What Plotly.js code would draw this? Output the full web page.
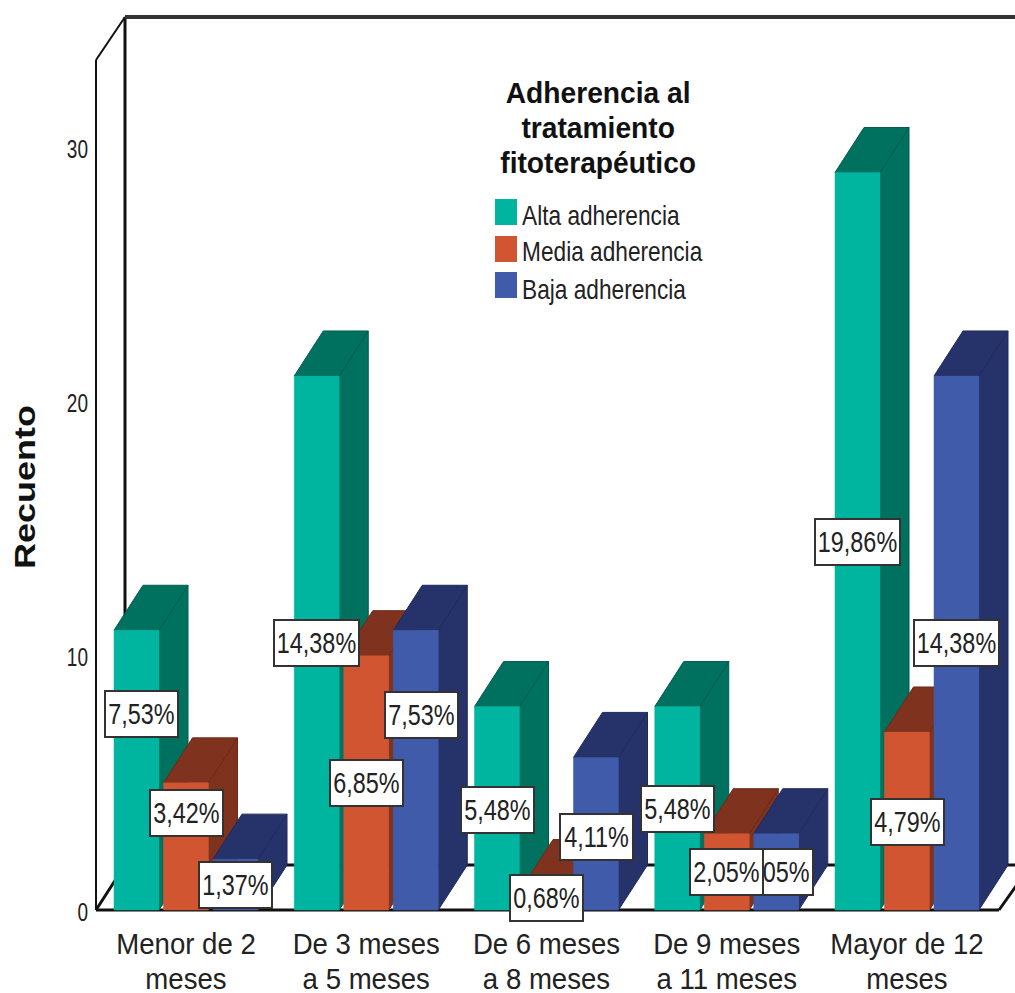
<!DOCTYPE html>
<html>
<head>
<meta charset="utf-8">
<script src="https://cdn.plot.ly/plotly-3.0.1.min.js"></script>
<style>
  html, body { margin: 0; padding: 0; background: #fff; overflow: hidden; }
  #chart { width: 1015px; height: 993px; }
</style>
</head>
<body>
<div id="chart"></div>
<script>
// Patients per duration of use, split by adherence level
const categories = ["Menor de 2<br>meses", "De 3 meses<br>a 5 meses", "De 6 meses<br>a 8 meses", "De 9 meses<br>a 11 meses", "Mayor de 12<br>meses"];
const alta  = [11, 21, 8, 8, 29];
const media = [5, 10, 1, 3, 7];
const baja  = [2, 11, 6, 3, 21];
const seriesNames = ["Alta adherencia", "Media adherencia", "Baja adherencia"];
const legendTitle = "Adherencia al<br>tratamiento<br>fitoterapéutico";

// Height of each value label's centre, in counts
const altaLabelY  = [7.71, 10.5, 3.93, 3.97, 14.47];
const mediaLabelY = [3.81, 5.0, 0.47, 1.49, 3.46];
const bajaLabelY  = [0.98, 7.67, 2.87, 1.49, 10.5];

const values = [alta, media, baja];
const labelY = [altaLabelY, mediaLabelY, bajaLabelY];
const total = values.flat().reduce((a, b) => a + b, 0);

const FRONT = ["#00B5A0", "#D05530", "#3F5BA9"];
const DARK  = ["#00705F", "#7F331F", "#26336B"];
const EDGE  = ["#005C4E", "#6B2A18", "#1E2A5A"];

// Plot scale: pixels per axis unit and the position of the origin
const W = 1015, H = 993, ML = 90, MB = 78;
const PX_X = 180.25, PX_Y = 25.43, X0 = 186, Y0 = 910;
const toX = px => (px - X0) / PX_X;
const toY = py => (Y0 - py) / PX_Y;

// Extruded depth and bar spacing in axis units
const DX = 29 / PX_X, DY = 45 / PX_Y;
const BAR_W = 45 / PX_X, STEP = 49.5 / PX_X;

const traces = [];
function face(xs, ys, fill, edge, name) {
  traces.push({
    type: "scatter", mode: "lines", x: xs, y: ys, fill: "toself",
    fillcolor: fill, line: {color: edge, width: edge === fill ? 0.5 : 1},
    hoverinfo: "skip", showlegend: false, name: name
  });
}

// Painted left to right so nearer bars cover the sides of earlier ones
categories.forEach((_, i) => {
  values.forEach((series, s) => {
    const v = series[i];
    const x0 = i + (s - 1) * STEP - BAR_W / 2;
    const x1 = x0 + BAR_W;
    const name = seriesNames[s];
    face([x1, x1 + DX, x1 + DX, x1, x1], [0, DY, v + DY, v, 0], DARK[s], EDGE[s], name);
    face([x0, x0 + DX, x1 + DX, x1, x0], [v, v + DY, v + DY, v, v], DARK[s], EDGE[s], name);
    face([x0, x1, x1, x0, x0], [0, 0, v, v, 0], FRONT[s], FRONT[s], name);
  });
});

const SANS = "'Liberation Sans', sans-serif";
const annotations = [];

// Value boxes; in each group the blue box sits under the others
const nudge = {"0,0": 4.5, "1,2": 6};
categories.forEach((_, i) => {
  [2, 0, 1].forEach(s => {
    const pct = (values[s][i] / total * 100).toFixed(2).replace(".", ",") + "%";
    annotations.push({
      x: i + (s - 1) * STEP + (nudge[i + "," + s] || 0) / PX_X,
      y: labelY[s][i], xref: "x", yref: "y",
      text: pct, showarrow: false, xanchor: "center", yanchor: "middle",
      font: {family: SANS, size: 30, color: "#222"},
      bgcolor: "#fff", bordercolor: "#333", borderwidth: 2,
      width: pct.length > 5 ? 81 : 69, height: 42, align: "center", valign: "middle"
    });
  });
});

// Legend block
annotations.push({
  x: toX(598), y: toY(74), xref: "x", yref: "y", text: "<b>" + legendTitle.split("<br>").join("</b><br><b>") + "</b>",
  showarrow: false, xanchor: "center", yanchor: "top", align: "center",
  font: {family: SANS, size: 30, color: "#111"}
});
const legendRows = [[199, 225, 216], [236, 262, 252], [272, 298, 290]];
const shapes = [];
legendRows.forEach((r, s) => {
  shapes.push({
    type: "rect", xref: "x", yref: "y", layer: "above",
    x0: toX(495), x1: toX(517), y0: toY(r[1]), y1: toY(r[0]),
    fillcolor: FRONT[s], line: {width: 0}
  });
  annotations.push({
    x: toX(520), y: toY(r[2]), xref: "x", yref: "y", text: seriesNames[s],
    showarrow: false, xanchor: "left", yanchor: "middle",
    font: {family: SANS, size: 27, color: "#222"}
  });
});

// Chart box: walls and floor of the extruded frame
const frameLine = (x0, y0, x1, y1, width, color) => shapes.push({
  type: "line", xref: "x", yref: "y", layer: "below",
  x0: toX(x0), y0: toY(y0), x1: toX(x1), y1: toY(y1),
  line: {color: color || "#111", width: width}
});
frameLine(96, 910, 96, 60, 2);
frameLine(96, 60, 125, 17, 2);
frameLine(125, 17, 125, 865, 3);
frameLine(125, 17, 1015, 17, 4, "#333");
frameLine(96, 910, 125, 865, 3);
frameLine(125, 865, 1015, 865, 3);
frameLine(96, 910, 999, 910, 3);
frameLine(999, 910, 1016, 886, 3);

const layout = {
  width: W, height: H,
  margin: {l: ML, r: 0, t: 0, b: MB, pad: 0},
  paper_bgcolor: "#fff", plot_bgcolor: "#fff",
  showlegend: false, hovermode: false,
  xaxis: {
    range: [toX(ML), toX(W)], showgrid: false, zeroline: false, showline: false,
    tickmode: "array", tickvals: categories.map((_, i) => i), ticktext: categories,
    ticks: "", ticklabelstandoff: 8, fixedrange: true, tickangle: 0,
    tickfont: {family: SANS, size: 30, color: "#222"}
  },
  yaxis: {
    range: [toY(H - MB), toY(0)], showgrid: false, zeroline: false, showline: false,
    tickmode: "array", tickvals: [0, 10, 20, 30], ticks: "", fixedrange: true,
    tickfont: {family: SANS, size: 25, color: "#222"},
    title: {text: "<b>Recuento</b>", font: {family: SANS, size: 30, color: "#111"}, standoff: 24}
  },
  annotations: annotations,
  shapes: shapes
};

// The typeface of this chart is a condensed grotesque: narrow the sans glyphs in place
function squeeze(el, sx, anchor, shift) {
  const b = el.getBBox();
  const ox = anchor === "start" ? b.x : anchor === "end" ? b.x + b.width : b.x + b.width / 2;
  const prev = el.getAttribute("transform") || "";
  const move = shift ? `translate(${shift[0]},${shift[1]}) ` : "";
  el.setAttribute("transform", `${move}${prev} translate(${ox},0) scale(${sx},1) translate(${-ox},0)`);
}
function setLineGap(el, gap) {
  el.querySelectorAll("tspan.line").forEach((t, i) => t.setAttribute("dy", i * gap));
}

const root = document.getElementById("chart");
Plotly.newPlot(root, traces, layout, {displayModeBar: false, staticPlot: true}).then(() => {
  root.querySelectorAll(".xtick text").forEach(t => {
    setLineGap(t, 35);
    squeeze(t, 0.92, "middle", [0, 0]);
  });
  root.querySelectorAll(".ytick text").forEach(t => squeeze(t, 0.76, "end", [-1, 2]));
  const yt = root.querySelector(".ytitle");
  if (yt) {
    squeeze(yt, 1.2, "middle");
    const r = yt.getBoundingClientRect();
    yt.setAttribute("transform", `translate(${25 - (r.left + r.right) / 2},${487 - (r.top + r.bottom) / 2}) ` + yt.getAttribute("transform"));
  }
  root.querySelectorAll(".annotation").forEach(g => {
    g.querySelectorAll("[clip-path]").forEach(c => c.removeAttribute("clip-path"));
    const t = g.querySelector("text.annotation-text");
    const s = t.textContent;
    if (s.endsWith("%")) squeeze(t, 0.78, "middle");
    else if (seriesNames.includes(s)) squeeze(t, 0.84, "start");
    else { setLineGap(t, 35); squeeze(t, 0.94, "middle"); }
  });
});
</script>
</body>
</html>
